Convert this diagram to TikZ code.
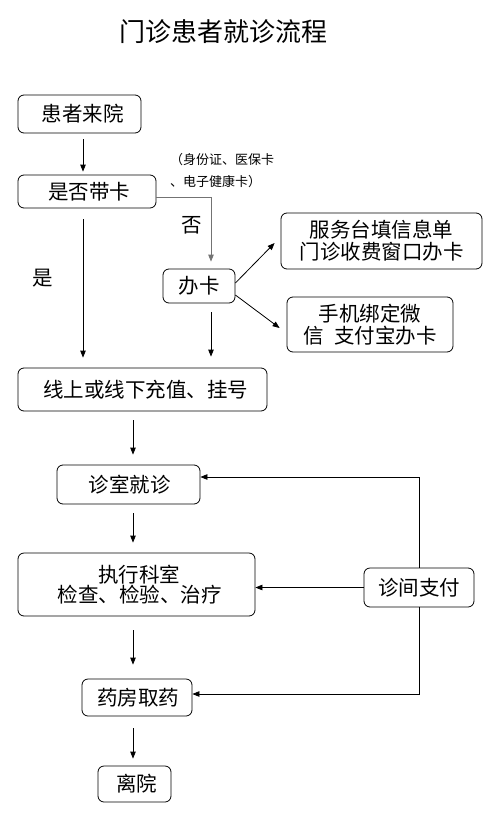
\documentclass[tikz,border=0pt]{standalone}
\usepackage{fontspec}
\setmainfont{Noto Sans CJK SC}
\usetikzlibrary{arrows.meta,calc}
\begin{document}
\begin{tikzpicture}[x=1pt,y=-1pt,
  box/.style={draw=black,line width=0.8pt,rounded corners=6pt,inner sep=0pt,align=center,
    font=\fontsize{20.5}{22}\selectfont},
  arr/.style={line width=0.8pt,-{Triangle[length=7pt,width=5.5pt]}},
  lbl/.style={inner sep=0pt,font=\fontsize{20.5}{22}\selectfont}]
\useasboundingbox (0,0) rectangle (499,814);
\node[inner sep=0pt,font=\fontsize{26}{28}\selectfont] (title) at (223,32) {门诊患者就诊流程};
\node[box,minimum width=123pt,minimum height=38pt] (p1) at (79.5,114) {\hspace{6pt}患者来院};
\node[box,minimum width=138pt,minimum height=33pt] (p2) at (87,191.5) {\hspace{4pt}是否带卡};
\node[box,minimum width=72pt,minimum height=34pt] (card) at (199,286) {办卡};
\node[box,minimum width=201pt,minimum height=56pt] (s1) at (381.5,241) {服务台填信息单\\门诊收费窗口办卡};
\node[box,minimum width=166pt,minimum height=55pt] (s2) at (370,324.5) {手机绑定微\\信\hspace{0.5em}支付宝办卡};
\node[box,minimum width=249pt,minimum height=43pt] (p3) at (142.5,389.5) {\hspace{6pt}线上或线下充值、挂号};
\node[box,minimum width=143pt,minimum height=39pt] (p4) at (128.5,484.5) {\hspace{2pt}诊室就诊};
\node[box,minimum width=237pt,minimum height=63pt,font=\fontsize{20.5}{20.5}\selectfont] (p5) at (136.5,584.5) {\hspace{6pt}执行科室\\\hspace{6pt}检查、检验、治疗};
\node[box,minimum width=110pt,minimum height=37pt] (p6) at (137,697.5) {\hspace{2pt}药房取药};
\node[box,minimum width=73pt,minimum height=36pt] (p7) at (134.5,784) {\hspace{4pt}离院};
\node[box,minimum width=110pt,minimum height=39pt] (pay) at (419,587.5) {诊间支付};
\node[inner sep=0pt,anchor=north west,align=left,font=\fontsize{13}{22}\selectfont] (note) at (170,153) {（身份证、医保卡\\、电子健康卡）};
\node[lbl] (yes) at (43,278) {是};
\node[lbl] (no) at (192,225) {否};
\coordinate (cA) at (83,0);
\coordinate (cB) at (211,0);
\coordinate (cC) at (133,0);
% connectors
\draw[arr,shorten <=6pt,shorten >=3pt] (p1.south -| cA) -- (p2.north -| cA);
\draw[arr,shorten <=11pt,shorten >=10pt] (p2.south -| cA) -- (p3.north -| cA);
\draw[arr,draw=black!55,shorten >=7pt] ([yshift=-5.5pt]p2.east) -| (card.north -| cB);
\draw[arr] ([yshift=3pt]card.east) -- ([xshift=-6pt,yshift=-2pt]s1.west);
\draw[arr] ([yshift=-9pt]card.east) -- ([xshift=-7pt,yshift=-3.5pt]s2.west);
\draw[arr,shorten <=9pt,shorten >=11pt] (card.south -| cB) -- (p3.north -| cB);
\draw[arr,shorten <=9pt,shorten >=10pt] (p3.south -| cC) -- (p4.north -| cC);
\draw[arr,shorten <=9pt,shorten >=10pt] (p4.south -| cC) -- (p5.north -| cC);
\draw[arr,shorten <=14pt,shorten >=14pt] (p5.south -| cC) -- (p6.north -| cC);
\draw[arr,shorten <=12pt,shorten >=7pt] (p6.south -| cC) -- (p7.north -| cC);
\draw[arr] (pay.north) |- ([yshift=7.5pt]p4.east);
\draw[arr] (pay.west) -- (pay.west -| p5.east);
\draw[arr] (pay.south) |- ([yshift=3.5pt]p6.east);
\end{tikzpicture}
\end{document}
